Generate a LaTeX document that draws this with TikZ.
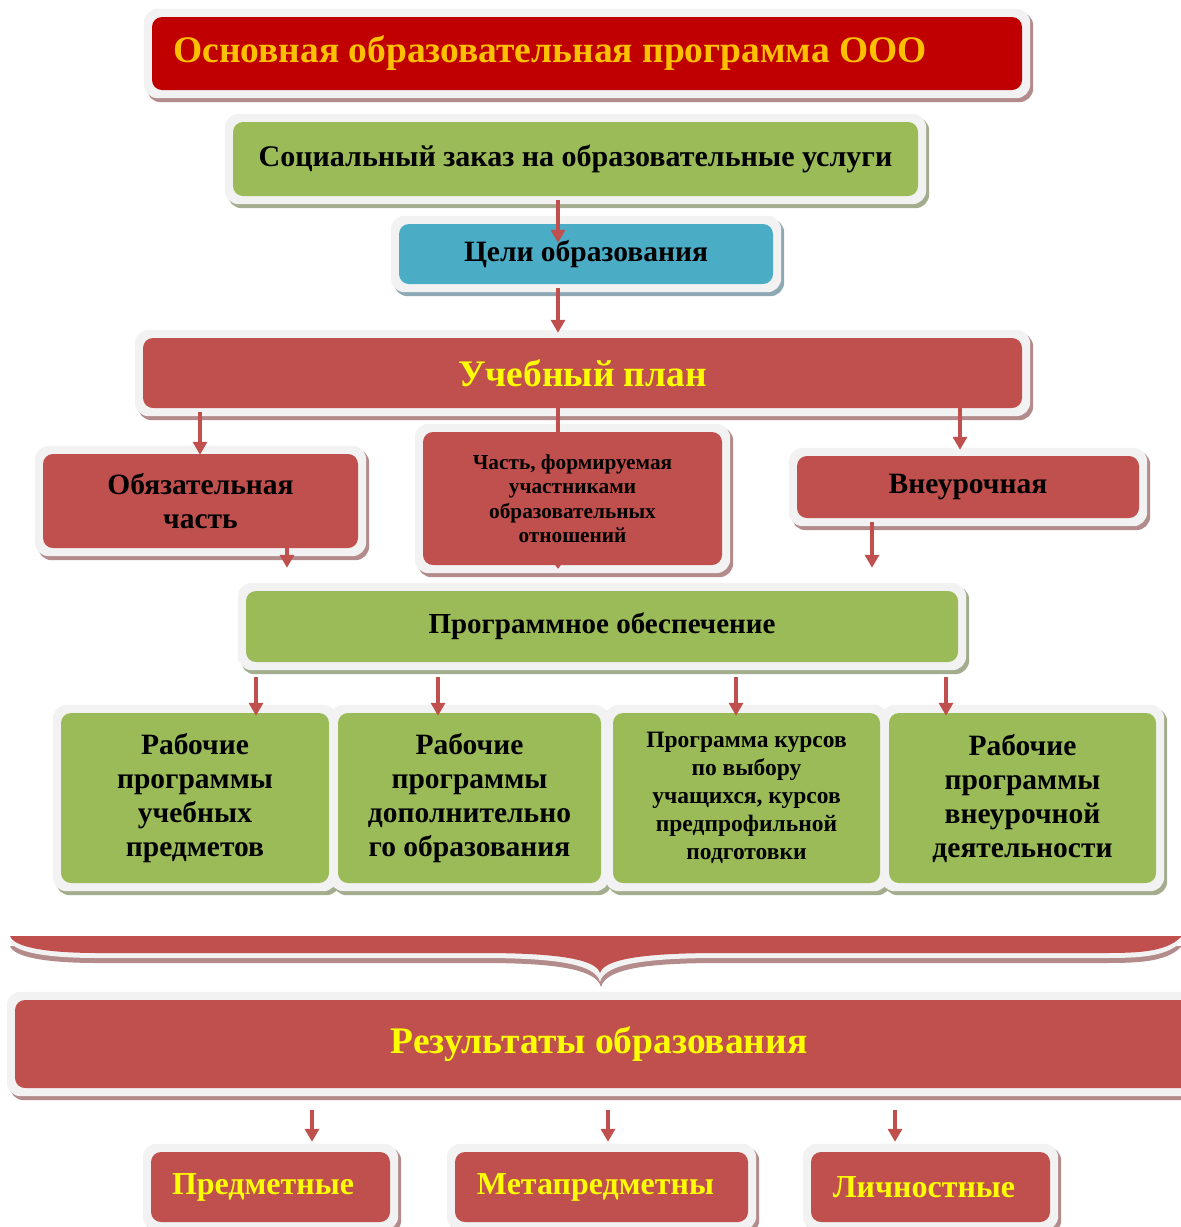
\documentclass[tikz,border=0pt]{standalone}
\usepackage{fontspec}
\setmainfont{Liberation Serif}
\usetikzlibrary{backgrounds,arrows.meta}
\definecolor{titlered}{HTML}{C00000}
\definecolor{gold}{HTML}{FFC000}
\definecolor{brick}{HTML}{C0504D}
\definecolor{leaf}{HTML}{9BBB59}
\definecolor{sky}{HTML}{4BACC6}
\definecolor{framegray}{HTML}{F2F2F2}
\definecolor{redsh}{HTML}{B38B8B}
\definecolor{greensh}{HTML}{A3AD8E}
\definecolor{bluesh}{HTML}{8EA9B4}
\definecolor{yel}{HTML}{FFFF00}
\tikzset{
  arr/.style={draw=brick, line width=4pt, -{Triangle[width=14pt,length=13pt]}},
  plainline/.style={draw=brick, line width=4pt},
  blacktxt/.style={text=black, font=\bfseries\fontsize{29.5}{34}\selectfont, align=center},
  yeltxt/.style={text=yel, font=\bfseries\fontsize{37.5}{42}\selectfont, align=center},
  smallyel/.style={text=yel, font=\bfseries\fontsize{32}{36}\selectfont, align=center},
}
% #1 name, #2 centre, #3 width, #4 height, #5 fill, #6 shadow colour, #7 text options, #8 text
\newcommand\panel[8]{%
  \node[inner sep=0pt, minimum width=#3, minimum height=#4, rounded corners=10pt, fill=#5, #7] (#1) at (#2) {#8};
  \begin{pgfonlayer}{background}
    \fill[#6, rounded corners=14pt] ([xshift=-5pt,yshift=5pt]#1.north west) rectangle ([xshift=11pt,yshift=-12pt]#1.south east);
    \fill[framegray, rounded corners=14pt] ([xshift=-8pt,yshift=8pt]#1.north west) rectangle ([xshift=8pt,yshift=-8pt]#1.south east);
  \end{pgfonlayer}
}
\begin{document}
\begin{tikzpicture}[x=1pt,y=-1pt]
\useasboundingbox (0,0) rectangle (1181,1227);

\panel{title}{587,53.5}{870pt}{73pt}{titlered}{redsh}{text=gold, font=\bfseries\fontsize{37.5}{44}\selectfont}{\hspace*{-74pt}Основная образовательная программа ООО}
\panel{soc}{575.5,159}{685pt}{74pt}{leaf}{greensh}{blacktxt, font=\bfseries\fontsize{30}{34}\selectfont}{Социальный заказ на образовательные услуги}
\panel{goal}{586,254}{374pt}{60pt}{sky}{bluesh}{blacktxt}{Цели образования}
\panel{plan}{582.5,373}{879pt}{70pt}{brick}{redsh}{yeltxt}{Учебный план}
\panel{oblig}{200.5,501}{315pt}{94pt}{brick}{redsh}{blacktxt}{Обязательная\\часть}
\panel{part}{572.5,498.5}{299pt}{133pt}{brick}{redsh}{blacktxt, font=\bfseries\fontsize{21.3}{24.5}\selectfont}{Часть, формируемая\\участниками\\образовательных\\отношений}
\panel{extra}{968,487}{342pt}{62pt}{brick}{redsh}{blacktxt}{Внеурочная}
\panel{prog}{602,626.5}{712pt}{71pt}{leaf}{greensh}{blacktxt, font=\bfseries\fontsize{29}{32}\selectfont}{Программное обеспечение}
\panel{r1}{195,798}{268pt}{170pt}{leaf}{greensh}{blacktxt}{Рабочие\\программы\\учебных\\предметов}
\panel{r2}{469.5,798}{263pt}{170pt}{leaf}{greensh}{blacktxt}{Рабочие\\программы\\дополнительно\\го образования}
\panel{r3}{746.5,798}{267pt}{170pt}{leaf}{greensh}{blacktxt, font=\bfseries\fontsize{23.5}{28}\selectfont}{Программа курсов\\по выбору\\учащихся, курсов\\предпрофильной\\подготовки}
\panel{r4}{1022.5,798}{267pt}{170pt}{leaf}{greensh}{blacktxt}{Рабочие\\программы\\внеурочной\\деятельности}

% brace
\fill[redsh] (10,946) -- (1181,946) -- (1181,947) .. controls (1165,963) and (1135,963) .. (1099,963) -- (720,963) .. controls (650,963) and (606,968) .. (601,987) .. controls (596,968) and (550,963) .. (482,963) -- (98,963) .. controls (45,963) and (14,957) .. (10,946) -- cycle;
\fill[framegray] (10,941) -- (1181,941) -- (1181,942) .. controls (1165,958) and (1135,958) .. (1099,958) -- (720,958) .. controls (650,958) and (604,963) .. (600,982) .. controls (596,963) and (550,958) .. (482,958) -- (98,958) .. controls (45,958) and (14,952) .. (10,941) -- cycle;
\fill[brick] (10,936) -- (1181,936) -- (1181,937) .. controls (1165,953) and (1135,953) .. (1099,953) -- (720,953) .. controls (650,953) and (604,958) .. (600,973) .. controls (596,958) and (550,953) .. (482,953) -- (98,953) .. controls (45,953) and (14,947) .. (10,936) -- cycle;

\panel{res}{605,1044}{1180pt}{88pt}{brick}{redsh}{yeltxt}{\hspace*{-12pt}Результаты образования}
\panel{b1}{270.5,1187}{239pt}{70pt}{brick}{redsh}{smallyel}{\hspace*{-15pt}Предметные}
\panel{b2}{601.5,1187}{293pt}{70pt}{brick}{redsh}{smallyel}{\hspace*{-12pt}Метапредметны}
\panel{b3}{930.5,1187}{239pt}{70pt}{brick}{redsh}{smallyel}{\hspace*{-13pt}Личностные}

% connectors
\draw[arr] ([xshift=-17.5pt,yshift=-4pt]soc.south) -- ([xshift=-28pt,yshift=-19pt]goal.north);
\draw[arr] ([xshift=-28pt,yshift=-4pt]goal.south) -- ([xshift=-24.5pt,yshift=5pt]plan.north);
\draw[arr] ([xshift=-382.5pt,yshift=-4pt]plan.south) -- ([xshift=-0.5pt,yshift=-1pt]oblig.north);
\draw[plainline] ([xshift=-24.5pt]plan.south) -- ([xshift=-14.5pt]part.north);
\draw[arr] ([xshift=377.5pt]plan.south) -- ([xshift=-8pt,yshift=6pt]extra.north);
\draw[arr] ([xshift=86.5pt]oblig.south) -- ([xshift=-315pt,yshift=23pt]prog.north);
\draw[draw=brick, line width=3pt, -{Triangle[width=10pt,length=7pt]}] ([xshift=-14.5pt,yshift=4pt]part.south) -- ([xshift=-44pt,yshift=22pt]prog.north);
\draw[arr] ([xshift=-96pt,yshift=-4pt]extra.south) -- ([xshift=270pt,yshift=23pt]prog.north);
\draw[arr] ([xshift=-346pt,yshift=-15pt]prog.south) -- ([xshift=61pt,yshift=-3pt]r1.north);
\draw[arr] ([xshift=-164pt,yshift=-15pt]prog.south) -- ([xshift=-31.5pt,yshift=-3pt]r2.north);
\draw[arr] ([xshift=134pt,yshift=-15pt]prog.south) -- ([xshift=-10.5pt,yshift=-3pt]r3.north);
\draw[arr] ([xshift=344pt,yshift=-15pt]prog.south) -- ([xshift=-76.5pt,yshift=-3pt]r4.north);
\draw[arr] ([xshift=-293pt,yshift=-22pt]res.south) -- ([xshift=41.5pt,yshift=10pt]b1.north);
\draw[arr] ([xshift=3pt,yshift=-22pt]res.south) -- ([xshift=6.5pt,yshift=10pt]b2.north);
\draw[arr] ([xshift=290pt,yshift=-22pt]res.south) -- ([xshift=-35.5pt,yshift=10pt]b3.north);
\end{tikzpicture}
\end{document}
